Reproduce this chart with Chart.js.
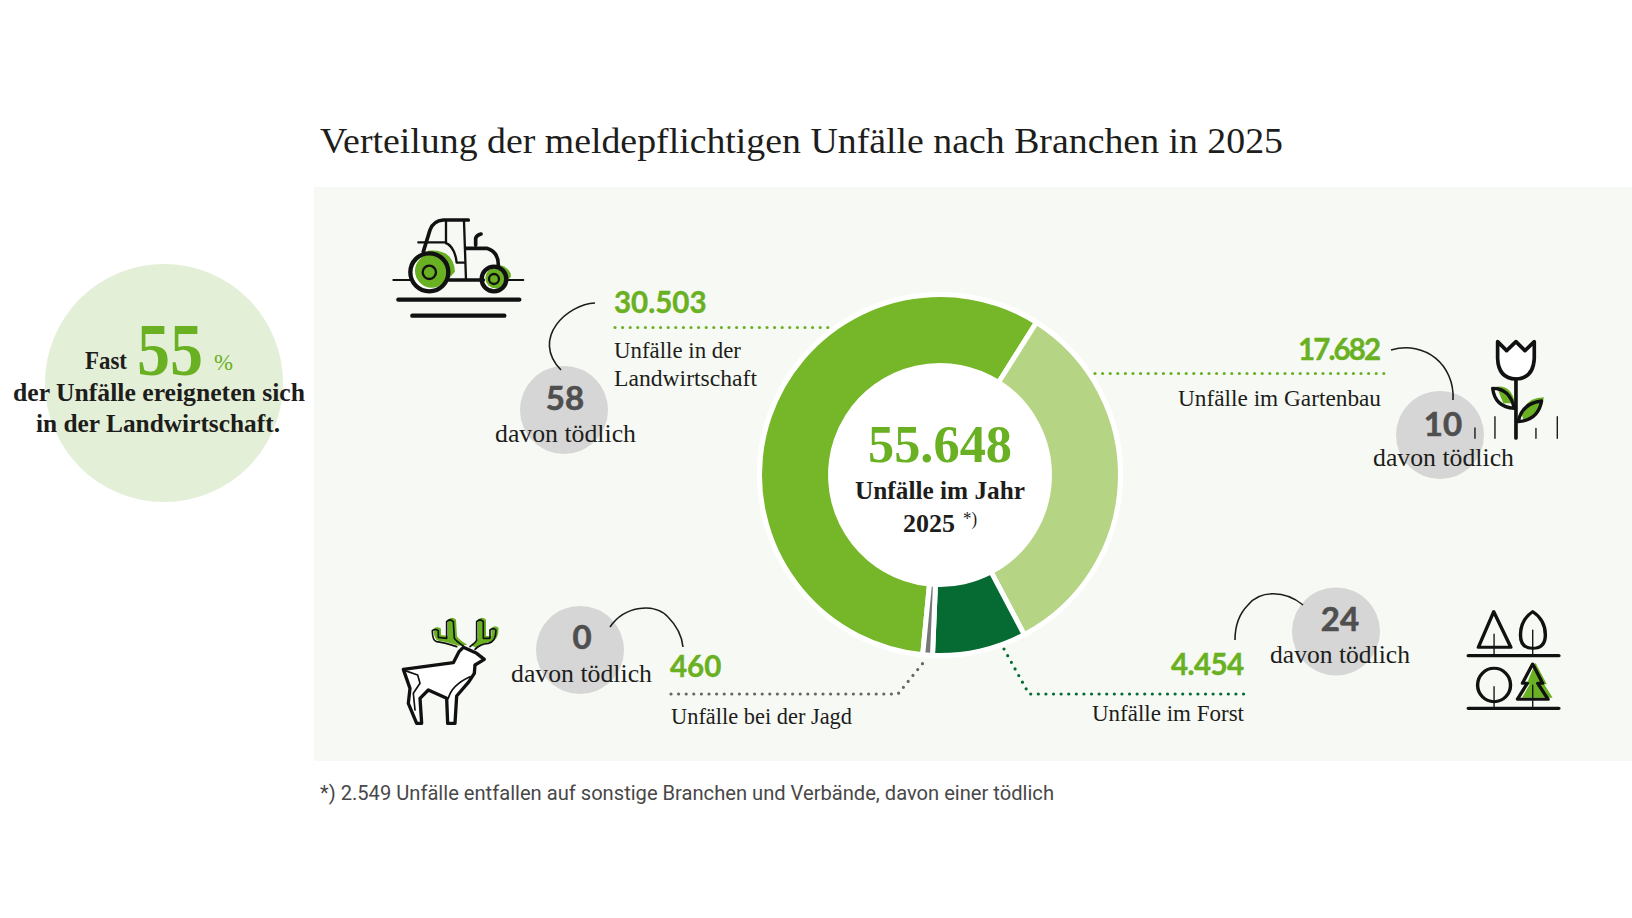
<!DOCTYPE html>
<html lang="de">
<head>
<meta charset="utf-8">
<title>Verteilung der meldepflichtigen Unfälle</title>
<script src="https://cdn.jsdelivr.net/npm/chart.js@4/dist/chart.umd.min.js"></script>
<style>
  html, body { margin: 0; padding: 0; background: #fff; }
  #page { position: relative; width: 1632px; height: 918px; overflow: hidden; }
  #art { position: absolute; left: 0; top: 0; }
  #donut { position: absolute; left: 752px; top: 287px; width: 376px; height: 376px; }
  .serif { font-family: "Liberation Serif", serif; fill: #1d1d1b; }
  .bold { font-weight: 700; }
  .num { font-family: Lato, sans-serif; font-weight: 700; fill: #6ab023; stroke: #6ab023; stroke-width: .4; }
  .dead { font-family: Lato, sans-serif; font-weight: 700; fill: #4f4f4f; stroke: #4f4f4f; stroke-width: .6; text-anchor: middle; font-size: 33px; }
  .arc { fill: none; stroke: #1d1d1b; stroke-width: 1.6; }
  .dots { fill: none; stroke-width: 3.2; stroke-linecap: round; stroke-dasharray: 0 7.6; }
  .ink { fill: none; stroke: #111; stroke-linecap: round; stroke-linejoin: round; }
</style>
</head>
<body>
<div id="page">
<svg id="art" width="1632" height="918" viewBox="0 0 1632 918">
  <rect x="314" y="187" width="1318" height="574" fill="#f7faf4"/>
  <text class="serif" x="320" y="153" font-size="35" textLength="963" lengthAdjust="spacingAndGlyphs">Verteilung der meldepflichtigen Unfälle nach Branchen in 2025</text>

  <!-- Kreis links -->
  <circle cx="164" cy="383" r="119" fill="#e4efd8"/>
  <text class="serif bold" x="85" y="369" font-size="25" textLength="42" lengthAdjust="spacingAndGlyphs">Fast</text>
  <text class="serif bold" x="137" y="375" font-size="74" style="fill:#6ab023" textLength="66" lengthAdjust="spacingAndGlyphs">55</text>
  <text class="serif" x="214" y="370" font-size="24" style="fill:#6ab023" textLength="19" lengthAdjust="spacingAndGlyphs">%</text>
  <text class="serif bold" x="13" y="401" font-size="25" textLength="292" lengthAdjust="spacingAndGlyphs">der Unfälle ereigneten sich</text>
  <text class="serif bold" x="36" y="432" font-size="25" textLength="244" lengthAdjust="spacingAndGlyphs">in der Landwirtschaft.</text>

  <!-- weisse Scheibe hinter dem Ring -->
  <circle cx="940" cy="475" r="183" fill="#fff"/>
  <text class="serif bold" x="868" y="462" font-size="52" style="fill:#6ab023" textLength="144" lengthAdjust="spacingAndGlyphs">55.648</text>
  <text class="serif bold" x="855" y="499" font-size="25" textLength="170" lengthAdjust="spacingAndGlyphs">Unfälle im Jahr</text>
  <text class="serif bold" x="903" y="532" font-size="25" textLength="52" lengthAdjust="spacingAndGlyphs">2025</text>
  <text class="serif" x="963" y="525" font-size="19" textLength="14" lengthAdjust="spacingAndGlyphs">*)</text>

  <!-- Landwirtschaft -->
  <circle cx="564" cy="410" r="44" fill="#d6d6d6"/>
  <text class="num" x="614" y="313" font-size="29.5">30.503</text>
  <path class="dots" stroke="#6ab023" d="M615 327.5H830"/>
  <text class="serif" x="614" y="358" font-size="23" textLength="127" lengthAdjust="spacingAndGlyphs">Unfälle in der</text>
  <text class="serif" x="614" y="386" font-size="23" textLength="143" lengthAdjust="spacingAndGlyphs">Landwirtschaft</text>
  <text class="dead" x="565" y="410">58</text>
  <text class="serif" x="495" y="442" font-size="24.5" textLength="141" lengthAdjust="spacingAndGlyphs">davon tödlich</text>
  <path class="arc" d="M595 303C568 304 530 338 561 370"/>

  <!-- Gartenbau -->
  <circle cx="1440" cy="435" r="44" fill="#d6d6d6"/>
  <text class="num" x="1298" y="360" font-size="29.5" textLength="83" lengthAdjust="spacing">17.682</text>
  <path class="dots" stroke="#6ab023" d="M1095 373.5H1391"/>
  <text class="serif" x="1178" y="406" font-size="23" textLength="203" lengthAdjust="spacingAndGlyphs">Unfälle im Gartenbau</text>
  <text class="dead" x="1443" y="436">10</text>
  <text class="serif" x="1373" y="466" font-size="24.5" textLength="141" lengthAdjust="spacingAndGlyphs">davon tödlich</text>
  <path class="arc" d="M1391 350C1425 340 1455 365 1453 400"/>

  <!-- Forst -->
  <circle cx="1336" cy="631.5" r="44" fill="#d6d6d6"/>
  <text class="num" x="1171" y="675" font-size="29.5" textLength="73" lengthAdjust="spacing">4.454</text>
  <path class="dots" stroke="#056b33" d="M1004 649L1029 694H1244"/>
  <text class="serif" x="1092" y="721" font-size="23" textLength="152" lengthAdjust="spacingAndGlyphs">Unfälle im Forst</text>
  <text class="dead" x="1340" y="631">24</text>
  <text class="serif" x="1270" y="663" font-size="24.5" textLength="140" lengthAdjust="spacingAndGlyphs">davon tödlich</text>
  <path class="arc" d="M1303 605C1285 590 1260 590 1248 605C1238 615 1235 628 1235 640"/>

  <!-- Jagd -->
  <circle cx="580" cy="650" r="44" fill="#d6d6d6"/>
  <text class="num" x="670" y="677" font-size="29.5">460</text>
  <path class="dots" stroke="#666" d="M671 694H898L923 663"/>
  <text class="serif" x="671" y="724" font-size="23" textLength="181" lengthAdjust="spacingAndGlyphs">Unfälle bei der Jagd</text>
  <text class="dead" x="582" y="649">0</text>
  <text class="serif" x="511" y="682" font-size="24.5" textLength="141" lengthAdjust="spacingAndGlyphs">davon tödlich</text>
  <path class="arc" d="M610 627C625 605 655 603 668 617C677 626 682 637 683 647"/>

  <text x="320" y="800" font-family="Roboto, sans-serif" font-size="20.5" fill="#484848" textLength="734" lengthAdjust="spacingAndGlyphs">*) 2.549 Unfälle entfallen auf sonstige Branchen und Verbände, davon einer tödlich</text>

  <!-- Traktor -->
  <g transform="translate(385,210) scale(.3333)">
    <path class="ink" stroke-width="6" d="M25 210H415"/>
    <path d="M128 122Q205 115 210 185L160 240Z" fill="#6ab023"/>
    <path d="M345 165Q378 175 378 200L340 240Z" fill="#6ab023"/>
    <circle cx="133" cy="187" r="57" fill="#fff"/>
    <circle cx="327" cy="207" r="37" fill="#fff"/>
    <circle cx="140" cy="183" r="50" fill="#6ab023"/>
    <circle cx="332" cy="204" r="31" fill="#6ab023"/>
    <circle class="ink" stroke-width="13" cx="133" cy="187" r="57"/>
    <circle class="ink" stroke-width="7" cx="133" cy="187" r="20"/>
    <circle class="ink" stroke-width="13" cx="327" cy="207" r="37"/>
    <circle class="ink" stroke-width="7" cx="327" cy="207" r="15"/>
    <path class="ink" stroke-width="11" d="M115 125L135 60Q145 32 175 30H250M243 115H305Q340 125 340 165M272 105V85Q275 75 288 72M190 210H295"/>
    <path class="ink" stroke-width="7" d="M183 32V100M237 32L243 210M100 97H180Q210 110 215 158H240"/>
    <path class="ink" stroke-width="13" d="M40 269H403M82 317H358"/>
  </g>

  <!-- Tulpe -->
  <g transform="translate(1080,320) scale(.3333)">
    <path d="M1250 200Q1295 195 1305 250L1270 250ZM1325 280Q1340 232 1392 232Q1380 290 1330 300Z" fill="#6ab023"/>
    <path class="ink" style="fill:#fff;stroke-width:11" d="M1253 65L1280 92L1308 65L1335 92L1363 65V115Q1360 175 1308 177Q1255 175 1253 115Z"/>
    <path class="ink" stroke-width="11" d="M1308 177V354"/>
    <path class="ink" stroke-width="10" d="M1238 205Q1290 205 1303 265Q1245 262 1238 205ZM1315 305Q1325 250 1385 243Q1375 300 1315 305Z"/>
    <path class="ink" stroke-width="4" d="M1185 324V355M1245 290V355M1368 325V355M1432 290V355"/>
  </g>

  <!-- Wald -->
  <g transform="translate(1000,570) scale(.3827,.3333)">
    <path d="M1395 280L1425 345L1418 345L1440 385L1360 385L1380 345L1372 345Z" fill="#6ab023" transform="translate(4,-2)"/>
    <path class="ink" stroke-width="9" d="M1290 125L1250 232H1335ZM1392 125Q1425 150 1425 195Q1425 235 1392 235Q1360 235 1360 195Q1360 150 1392 125ZM1392 282L1418 340H1405L1432 388H1352L1378 340H1365Z"/>
    <ellipse class="ink" stroke-width="9" cx="1291" cy="345" rx="43" ry="50"/>
    <path class="ink" stroke-width="3.5" d="M1291 192V257M1392 180V257M1291 350V415M1392 345V415"/>
    <path class="ink" stroke-width="10" d="M1224 257H1460M1224 415H1460"/>
  </g>

  <!-- Hirsch -->
  <g transform="translate(395,610) scale(.3333)">
    <path transform="translate(6,-5)" fill="#6ab023" stroke="#6ab023" stroke-width="4" d="M185 110Q150 98 125 95Q112 92 112 62Q120 55 130 62V82L155 85V35Q165 25 175 35L178 85Q185 95 205 108ZM225 110Q245 95 245 90V35Q255 25 265 35V85L285 85V60Q295 52 303 60Q303 95 280 100Q255 102 240 118Z"/>
    <path class="ink" stroke-width="5" d="M185 110Q150 98 125 95Q112 92 112 62Q120 55 130 62V82L155 85V35Q165 25 175 35L178 85Q185 95 205 108M225 110Q245 95 245 90V35Q255 25 265 35V85L285 85V60Q295 52 303 60Q303 95 280 100Q255 102 240 118"/>
    <path class="ink" style="fill:#fff;stroke-width:10" d="M25 178L175 158L192 125L205 112L245 130L268 148L240 165L238 190L222 215L185 258L180 340H158L155 265L100 240L75 265L80 340H65L40 280L45 235Z"/>
    <path class="ink" stroke-width="5" d="M30 182L68 195L75 220L55 250L60 300M225 200Q170 225 160 265"/>
  </g>
</svg>
<canvas id="donut" width="376" height="376"></canvas>
</div>
<script>
const branches = ['Landwirtschaft', 'Gartenbau', 'Forst', 'Jagd'];
const accidents = [30503, 17682, 4454, 460];
const sliceColors = ['#76b729', '#b5d585', '#056b33', '#777777'];

new Chart(document.getElementById('donut'), {
  type: 'doughnut',
  data: {
    labels: branches,
    datasets: [{
      data: accidents,
      backgroundColor: sliceColors,
      borderColor: '#ffffff',
      borderWidth: 5
    }]
  },
  options: {
    responsive: false,
    animation: false,
    devicePixelRatio: 1,
    rotation: 185.5,
    radius: 180.5,
    cutout: 112.5,
    layout: { padding: 0 },
    plugins: {
      legend: { display: false },
      tooltip: { enabled: false }
    }
  }
});
</script>
</body>
</html>
